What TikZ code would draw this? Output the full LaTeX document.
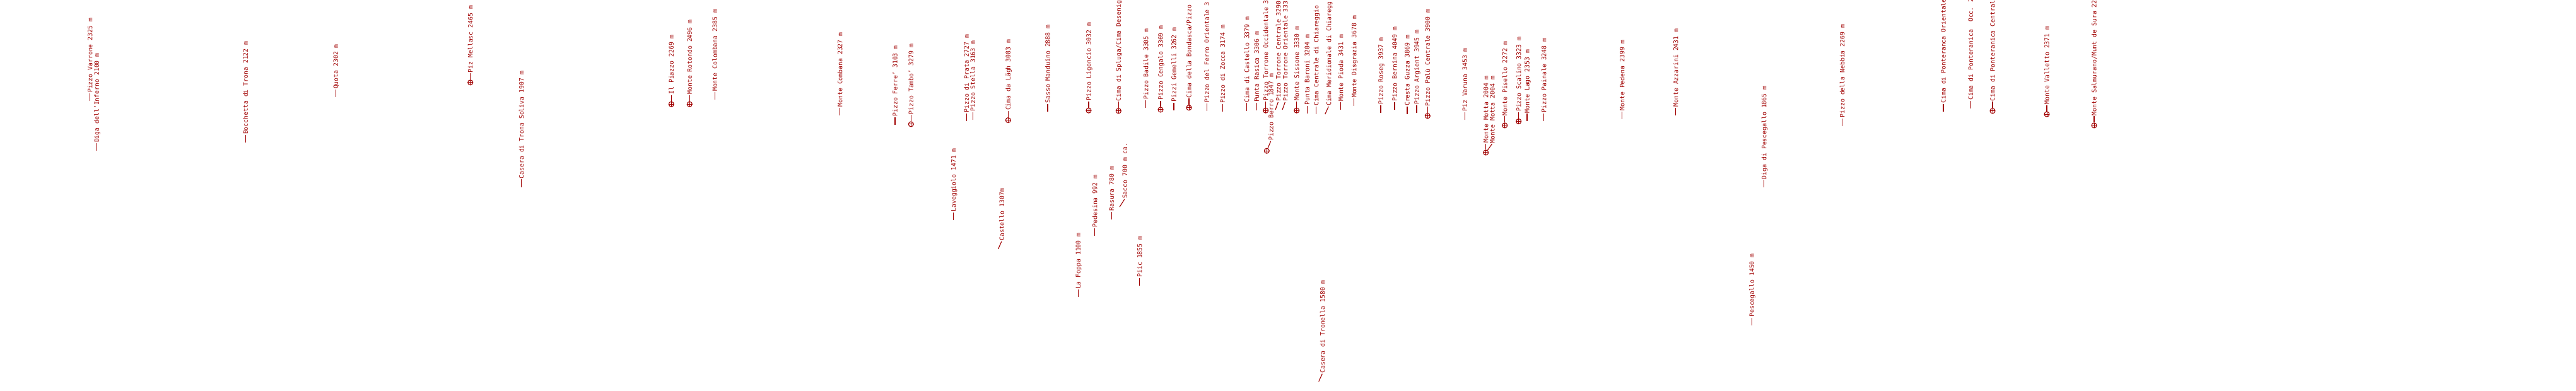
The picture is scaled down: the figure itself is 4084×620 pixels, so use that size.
\documentclass[tikz,border=0pt]{standalone}
\usepackage{fontspec}
\newfontfamily\labfont{DejaVu Sans Mono}
\definecolor{labred}{HTML}{A00000}
\tikzset{
  lbl/.style={rotate=90, anchor=west, inner sep=0pt, text height=7.2pt, text depth=0pt,
    font=\labfont\fontsize{9.8}{11}\selectfont, text=labred},
  mk/.style={draw=labred, line width=1.1pt, shorten >=1pt},
  tgt/.style={circle, draw=labred, line width=1.1pt, minimum size=8pt, inner sep=0pt,
    path picture={\draw[labred, line width=1pt]
      (path picture bounding box.north) -- (path picture bounding box.south)
      (path picture bounding box.west) -- (path picture bounding box.east);}}
}
% dash label: name, x, y bottom, text
\newcommand\dlab[4]{%
  \coordinate (#1-b) at (#2,#3);
  \node[lbl] (#1) at (#2,#3-11) {#4};
  \draw[mk] (#1-b) -- (#1.west);}
% target label: name, x, y centre, text
\newcommand\tlab[4]{%
  \node[tgt] (#1-t) at (#2,#3) {};
  \node[lbl] (#1) at (#2,#3-13) {#4};
  \draw[mk] (#1-t) -- (#1.west);}
% slanted label: name, x bottom, y bottom, x text, text
\newcommand\slab[5]{%
  \coordinate (#1-b) at (#2,#3);
  \node[lbl] (#1) at (#4,#3-11) {#5};
  \draw[mk] (#1-b) -- (#1.west);}
\begin{document}
\begin{tikzpicture}[x=1pt,y=-1.186pt]
\useasboundingbox (0pt,0pt) rectangle (4084pt,-620pt);
\clip (0pt,0pt) rectangle (4084pt,-620pt);
\dlab{varrone}{142.7}{135}{Pizzo Varrone 2325 m}
\dlab{inferno}{153.3}{201.7}{Diga dell’Inferno 2100 m}
\dlab{trona}{389.3}{190.7}{Bocchetta di Trona 2122 m}
\dlab{quota}{532.3}{130}{Quota 2302 m}
\tlab{mellasc}{745.7}{110.3}{Piz Mellasc 2465 m}
\dlab{soliva}{826.7}{250}{Casera di Trona Soliva 1907 m}
\tlab{piazzo}{1064.3}{139.3}{Il Piazzo 2269 m}
\tlab{rotondo}{1093.3}{139.3}{Monte Rotondo 2496 m}
\dlab{colombana}{1133.3}{133.3}{Monte Colombana 2385 m}
\dlab{combana}{1331.7}{154}{Monte Combana 2327 m}
\dlab{ferre}{1419}{166.7}{Pizzo Ferre’ 3103 m}
\tlab{tambo}{1444.3}{166}{Pizzo Tambo’ 3279 m}
\dlab{laveggiolo}{1511.7}{294}{Laveggiolo 1471 m}
\dlab{prata}{1532.3}{161.7}{Pizzo di Prata 2727 m}
\dlab{stella}{1542.3}{160}{Pizzo Stella 3163 m}
\tlab{lagh}{1598.3}{160.7}{Cima da Lägh 3083 m}
\slab{castello}{1582.5}{333}{1588.3}{Castello 1307m}
\dlab{manduino}{1661}{149}{Sasso Manduino 2888 m}
\tlab{ligoncio}{1726}{147.7}{Pizzo Ligoncio 3032 m}
\tlab{spluga}{1773.3}{148.3}{Cima di Spluga/Cima Desenig}
\dlab{foppa}{1709.3}{397.3}{La Foppa 1100 m}
\dlab{pedesina}{1735.7}{315}{Pedesina 992 m}
\dlab{rasura}{1762.3}{293.3}{Rasura 780 m}
\slab{sacco}{1775}{276.7}{1783.3}{Sacco 700 m ca.}
\dlab{badile}{1816.7}{144}{Pizzo Badile 3305 m}
\tlab{cengalo}{1840}{146.7}{Pizzo Cengalo 3369 m}
\dlab{gemelli}{1861}{147.3}{Pizzi Gemelli 3262 m}
\tlab{bondasca}{1885}{144}{Cima della Bondasca/Pizzo}
\dlab{ferro}{1913.3}{148.3}{Pizzo del Ferro Orientale 3}
\dlab{zocca}{1938.3}{149.3}{Pizzo di Zocca 3174 m}
\dlab{cimacastello}{1976.7}{148}{Cima di Castello 3379 m}
\dlab{piic}{1806.7}{381.7}{Piic 1855 m}
\dlab{rasica}{1992.3}{147.7}{Punta Rasica 3306 m}
\tlab{torocc}{2006.7}{147.7}{Pizzo Torrone Occidentale 3}
\node[tgt] (berro-t) at (2008.3,201.7) {};
\node[lbl] (berro) at (2015,188) {Pizzo Berro 1847 m};
\draw[mk] (berro-t) -- (berro.west);
\slab{torcen}{2022}{146.7}{2026.7}{Pizzo Torrone Centrale 3290}
\slab{torori}{2033}{146.7}{2037.7}{Pizzo Torrone Orientale 333}
\tlab{sissone}{2055.7}{147.7}{Monte Sissone 3330 m}
\dlab{baroni}{2072.3}{151.7}{Punta Baroni 3204 m}
\dlab{chicen}{2086.7}{152.7}{Cima Centrale di Chiareggio}
\slab{chimer}{2100.7}{152.7}{2106.7}{Cima Meridionale di Chiaregg}
\dlab{pioda}{2125.7}{146.7}{Monte Pioda 3431 m}
\dlab{disgrazia}{2146.7}{141.7}{Monte Disgrazia 3678 m}
\slab{tronella}{2090.7}{510}{2096.7}{Casera di Tronella 1580 m}
\dlab{roseg}{2189}{150.7}{Pizzo Roseg 3937 m}
\dlab{bernina}{2211}{146.7}{Pizzo Bernina 4049 m}
\dlab{guzza}{2231}{152.7}{Cresta Guzza 3869 m}
\dlab{argient}{2246}{150.7}{Pizzo Argient 3945 m}
\tlab{palu}{2263.3}{155}{Pizzo Palù Centrale 3900 m}
\dlab{varuna}{2322.3}{160}{Piz Varuna 3453 m}
\tlab{motta}{2355.7}{204}{Monte Motta 2004 m}
\node[lbl] (motta2) at (2366,191.7) {Monte Motta 2004 m};
\draw[mk] (motta-t) -- (motta2.west);
\tlab{pisello}{2385.7}{167.7}{Monte Pisello 2272 m}
\tlab{scalino}{2407.7}{162.3}{Pizzo Scalino 3323 m}
\dlab{lago}{2421}{162.3}{Monte Lago 2353 m}
\dlab{painale}{2447.7}{161.7}{Pizzo Painale 3248 m}
\dlab{pedena}{2571.7}{159}{Monte Pedena 2399 m}
\dlab{azzarini}{2656.7}{154}{Monte Azzarini 2431 m}
\dlab{digapesc}{2796.7}{250.7}{Diga di Pescegallo 1865 m}
\dlab{pescegallo}{2777.3}{435}{Pescegallo 1450 m}
\dlab{nebbia}{2920.7}{168.3}{Pizzo della Nebbia 2269 m}
\dlab{ponteor}{3081}{149}{Cima di Ponteranca Orientale}
\dlab{ponteocc}{3124.3}{145}{Cima di Ponteranica~ Occ. 2}
\tlab{pontecen}{3159}{148.3}{Cima di Ponteranica Central}
\tlab{valletto}{3245}{152.7}{Monte Valletto 2371 m}
\tlab{salmurano}{3320}{167.7}{Monte Salmurano/Munt de Sura 22}
\end{tikzpicture}
\end{document}
